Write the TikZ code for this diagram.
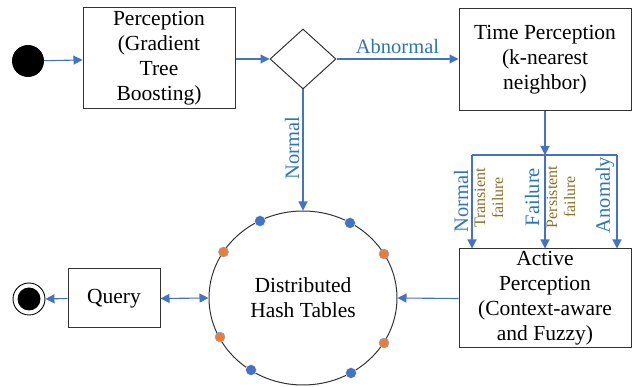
\documentclass[tikz,border=0pt]{standalone}
\usepackage{fontspec}
\setmainfont{Liberation Serif}
\usetikzlibrary{arrows.meta,shapes.geometric,calc}
\definecolor{lineblue}{RGB}{68,114,196}
\definecolor{labblue}{RGB}{46,117,182}
\definecolor{olive}{RGB}{140,112,40}
\definecolor{dotorange}{RGB}{237,125,49}
\tikzset{
  box/.style={draw=black!80, line width=1pt, fill=white, align=center, inner sep=2pt,
    font=\fontsize{21.5}{25}\selectfont},
  conn/.style={draw=lineblue, line width=1.1pt, -{Triangle[length=9pt,width=9pt]}},
  biconn/.style={draw=lineblue, line width=1.1pt, {Triangle[length=9pt,width=9pt]}-{Triangle[length=9pt,width=9pt]}},
  plain/.style={draw=lineblue, line width=1.1pt},
  lab/.style={text=labblue, font=\fontsize{20.5}{24}\selectfont, inner sep=0pt},
  sublab/.style={text=olive, font=\fontsize{16}{18}\selectfont, align=center, inner sep=0pt},
  bdot/.style={circle, fill=lineblue, draw=white, line width=0.4pt, minimum size=11pt, inner sep=0pt},
  odot/.style={circle, fill=dotorange, draw=lineblue!60, line width=0.6pt, minimum size=10pt, inner sep=0pt},
}
\begin{document}
\begin{tikzpicture}[x=1pt,y=-1pt]
\useasboundingbox (0,0) rectangle (633,387);
% nodes
\node[circle, fill=black, minimum size=32pt, inner sep=0pt] (start) at (28,61) {};
\node[box, minimum width=152pt, minimum height=101pt] (perc) at (159,58.5) {Perception\\(Gradient\\Tree\\Boosting)};
\node[diamond, draw=black!80, line width=1pt, minimum width=66pt, minimum height=60pt, inner sep=0pt] (dec) at (303,59) {};
\node[box, minimum width=172pt, minimum height=102pt] (tp) at (545,60) {Time Perception\\(k-nearest\\neighbor)};
\node[box, minimum width=172pt, minimum height=99pt] (ap) at (545,298.5) {Active\\Perception\\(Context-aware\\and Fuzzy)};
\node[ellipse, draw=black!80, line width=1pt, minimum width=188pt, minimum height=174pt, inner sep=0pt,
  align=center, font=\fontsize{21.5}{25}\selectfont] (dht) at (303,298) {Distributed\\Hash Tables};
\node[box, minimum width=92pt, minimum height=59pt] (query) at (114,298.5) {Query};
\node[circle, draw=black, line width=0.9pt, minimum size=32pt, inner sep=0pt] (end) at (29,299) {};
\node[circle, fill=black, minimum size=23pt, inner sep=0pt] (endin) at (29,299) {};
% dots on ring
\node[bdot] (d1) at (260,221) {};
\node[bdot] (d2) at (350,223) {};
\node[odot] (d3) at (223.5,252) {};
\node[odot] (d4) at (384,254) {};
\node[odot] (d5) at (220,337) {};
\node[odot] (d6) at (384,343) {};
\node[bdot] (d7) at (251,370) {};
\node[bdot] (d8) at (351,373) {};
% branch bar
\coordinate (bm) at (545,155);
\coordinate (bl) at (472,155);
\coordinate (br) at (617,155);
% connectors
\draw[conn] (start) -- (perc);
\draw[conn] (perc.east |- dec.west) -- (dec.west);
\draw[conn] (dec.east) -- node[lab, above=5pt] {Abnormal} (tp.west |- dec.east);
\draw[conn] (dec.south) -- (dht.north);
\draw[conn] (tp.south) -- (bm);
\draw[plain] (bl) -- (br);
\draw[conn] (bl) -- (bl |- ap.north);
\draw[conn] (bm) -- (bm |- ap.north);
\draw[conn] (br) -- (br |- ap.north);
\draw[conn] (ap.west) -- (dht.east);
\draw[biconn] (query.east) -- (dht.west);
\draw[conn] (query.west) -- (end.east);
% labels
\node[lab, rotate=90] (lnorm1) at (292,148) {Normal};
\node[lab, rotate=90] (lnorm2) at (461,201) {Normal};
\node[sublab, rotate=90] (ltrans) at (489,198) {Transient\\failure};
\node[lab, rotate=90] (lfail) at (532,197) {Failure};
\node[sublab, rotate=90] (lpers) at (561,197) {Persistent\\failure};
\node[lab, rotate=90] (lanom) at (605,195) {Anomaly};
\end{tikzpicture}
\end{document}
